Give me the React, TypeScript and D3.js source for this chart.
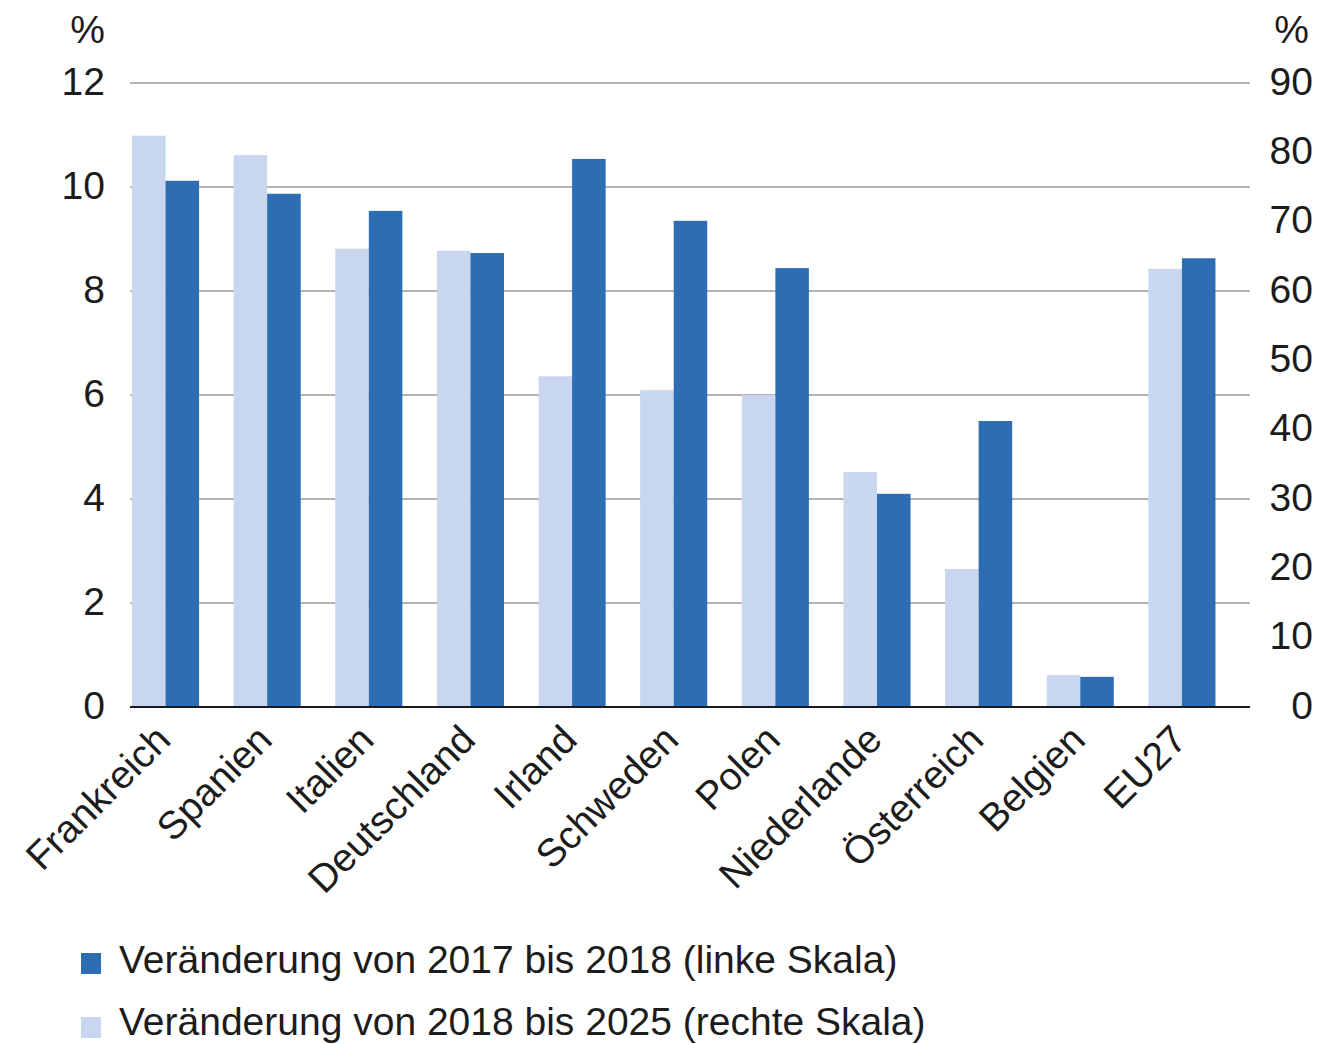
import React from "react";
import * as d3 from "d3";

const categories = [
  "Frankreich", "Spanien", "Italien", "Deutschland", "Irland", "Schweden",
  "Polen", "Niederlande", "Österreich", "Belgien", "EU27",
];
// Veränderung von 2017 bis 2018 (linke Skala), %
const change2017to2018 = [10.12, 9.87, 9.54, 8.73, 10.54, 9.35, 8.44, 4.1, 5.5, 0.58, 8.63];
// Veränderung von 2018 bis 2025 (rechte Skala), %
const change2018to2025 = [82.4, 79.6, 66.1, 65.8, 47.7, 45.7, 45.0, 33.9, 19.9, 4.6, 63.2];
const leftTicks = [0, 2, 4, 6, 8, 10, 12];
const rightTicks = [0, 10, 20, 30, 40, 50, 60, 70, 80, 90];
const legendLabels = [
  "Veränderung von 2017 bis 2018 (linke Skala)",
  "Veränderung von 2018 bis 2025 (rechte Skala)",
];

const DARK = "#2d6db4";
const LIGHT = "#c9d6ef";
const TEXT = "#1c1c1c";
const FONT = "'Liberation Sans', Arial, Helvetica, sans-serif";
const FS = 39;

export default function App() {
  const W = 1320;
  const H = 1044;
  const x0 = 130;
  const x1 = 1250;
  const yTop = 83;
  const yBase = 707;

  const x = d3.scaleBand<string>()
    .domain(categories)
    .range([132, x1])
    .paddingInner(0.34)
    .paddingOuter(0.17)
    .align(0);
  const sub = d3.scaleBand<string>()
    .domain(["b", "a"])
    .range([0, x.bandwidth()])
    .padding(0);
  const yL = d3.scaleLinear().domain([0, 12]).range([yBase, yTop]);
  const yR = d3.scaleLinear().domain([0, 90]).range([yBase, yTop]);

  return (
    <svg width={W} height={H} style={{ position: "absolute", left: 0, top: 0, background: "#fff" }}
      fontFamily={FONT}>
      <rect x={0} y={0} width={W} height={H} fill="#fff" />
      {/* gridlines */}
      {leftTicks.filter((t) => t > 0).map((t) => (
        <line key={t} x1={x0} x2={x1} y1={yL(t)} y2={yL(t)} stroke="#9a9a9a" strokeWidth={1.5} />
      ))}
      {/* bars */}
      {categories.map((c, i) => {
        const bx = x(c)!;
        return (
          <g key={c}>
            <rect x={bx + sub("b")!} y={yR(change2018to2025[i])} width={sub.bandwidth()}
              height={yBase - yR(change2018to2025[i])} fill={LIGHT} />
            <rect x={bx + sub("a")!} y={yL(change2017to2018[i])} width={sub.bandwidth()}
              height={yBase - yL(change2017to2018[i])} fill={DARK} />
          </g>
        );
      })}
      {/* baseline */}
      <line x1={x0} x2={x1} y1={yBase} y2={yBase} stroke="#1a1a1a" strokeWidth={2} />
      {/* left axis */}
      {leftTicks.map((t) => (
        <text key={t} x={105} y={yL(t)} dy="0.3em" textAnchor="end" fontSize={FS} fill={TEXT}>
          {t}
        </text>
      ))}
      <text x={105} y={43} textAnchor="end" fontSize={FS} fill={TEXT}>%</text>
      {/* right axis */}
      {rightTicks.map((t) => (
        <text key={t} x={1313} y={yR(t)} dy="0.3em" textAnchor="end" fontSize={FS} fill={TEXT}>
          {t}
        </text>
      ))}
      <text x={1309} y={43} textAnchor="end" fontSize={FS} fill={TEXT}>%</text>
      {/* category labels */}
      {categories.map((c) => {
        const cx = x(c)! + x.bandwidth() / 2 + 7;
        const cy = 742;
        return (
          <text key={c} x={cx} y={cy} textAnchor="end" fontSize={FS} fill={TEXT}
            transform={`rotate(-45 ${cx} ${cy})`}>
            {c}
          </text>
        );
      })}
      {/* legend */}
      {legendLabels.map((l, i) => (
        <g key={l}>
          <rect x={81} y={953 + i * 64} width={20} height={21} fill={i === 0 ? DARK : LIGHT} />
          <text x={119} y={973 + i * 62} fontSize={FS} fill={TEXT}>{l}</text>
        </g>
      ))}
    </svg>
  );
}
